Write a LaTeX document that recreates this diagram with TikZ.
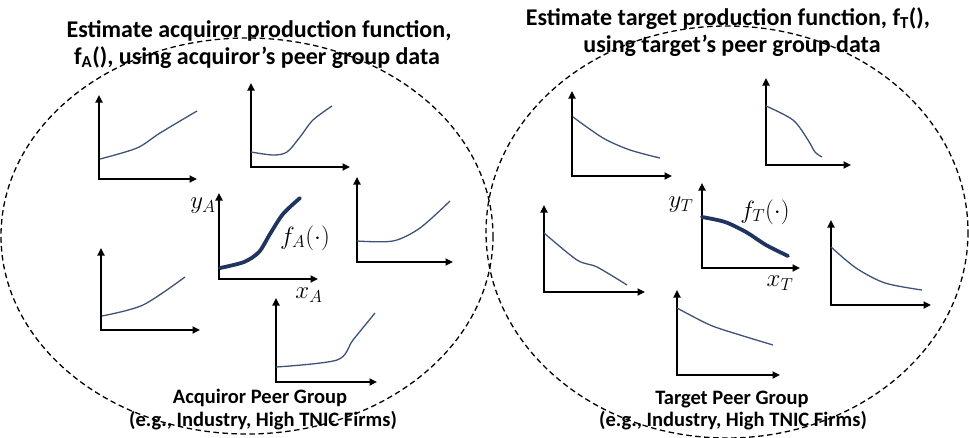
\documentclass[tikz,border=0pt]{standalone}
\usepackage{fontspec}
\setmainfont{Carlito}
\usetikzlibrary{arrows.meta}
\definecolor{thincurve}{HTML}{3F5277}
\definecolor{boldcurve}{HTML}{1F3560}
\begin{document}
\begin{tikzpicture}[x=1pt,y=-1pt,
  axes/.style={line width=1.7pt,{Triangle[length=7.5pt,width=7pt]}-{Triangle[length=7.5pt,width=7pt]}},
  curve/.style={thincurve,line width=1.3pt},
  bigcurve/.style={boldcurve,line width=3.8pt,line cap=round},
  group/.style={line width=1.3pt,dash pattern=on 5.5pt off 3.5pt},
  title/.style={font=\bfseries\fontsize{24}{28}\selectfont,anchor=base,inner sep=0pt},
  caption/.style={font=\bfseries\fontsize{20.5}{24}\selectfont,anchor=base,inner sep=0pt},
  mathlbl/.style={font=\fontsize{27}{31}\selectfont,inner sep=0pt}]
\useasboundingbox (0,0) rectangle (969,437);

% peer-group outlines
\draw[group] (247,236) ellipse [x radius=246, y radius=198];
\draw[group] (727,232) ellipse [x radius=241, y radius=206];

% titles
\node[title] (tA1) at (259,37) {Estimate acquiror production function,};
\node[title] (tA2) at (257,64) {f\textsubscript{A}(), using acquiror’s peer group data};
\node[title] (tT1) at (728,25) {Estimate target production function, f\textsubscript{T}(),};
\node[title] (tT2) at (732,52) {using target’s peer group data};

% captions
\node[caption] (cA1) at (260,403) {Acquiror Peer Group};
\node[caption] (cA2) at (263,426) {(e.g., Industry, High TNIC Firms)};
\node[caption] (cT1) at (732,404) {Target Peer Group};
\node[caption] (cT2) at (733,426) {(e.g., Industry, High TNIC Firms)};

% ---- acquiror peer firms ----
\draw[axes] (99,95) |- (197,179);
\draw[curve] plot[smooth] coordinates {(100,159) (137,148) (160,133) (197,111)};

\draw[axes] (251,83) |- (350,167);
\draw[curve] plot[smooth] coordinates {(251,152) (273,155) (287,152) (300,137) (313,120) (332,106)};

\draw[axes] (357,177) |- (453,262);
\draw[curve] plot[smooth] coordinates {(357,241) (393,241) (420,228) (450,201)};

\draw[axes] (101,248) |- (200,330);
\draw[curve] plot[smooth] coordinates {(102,316) (143,305) (185,277)};

\draw[axes] (276,298) |- (377,382);
\draw[curve] plot[smooth] coordinates {(276,367) (337,360) (353,340) (375,313)};

% acquiror production function
\draw[axes] (219,193) |- (318,279);
\draw[bigcurve] plot[smooth] coordinates {(220,268) (244,262) (259,252) (270,234) (283,214) (300,198)};
\node[mathlbl] (yA) at (203,206) {$y_A$};
\node[mathlbl] (fA) at (305,238) {$f_A(\cdot)$};
\node[mathlbl] (xA) at (309,295) {$x_A$};

% ---- target peer firms ----
\draw[axes] (572,91) |- (672,176);
\draw[curve] plot[smooth] coordinates {(573,117) (603,138) (630,150) (660,158)};

\draw[axes] (766,78) |- (851,165);
\draw[curve] plot[smooth] coordinates {(766,106) (793,120) (808,140) (815,152) (822,157)};

\draw[axes] (544,205) |- (645,292);
\draw[curve] plot[smooth] coordinates {(544,233) (577,260) (597,267) (627,285)};

\draw[axes] (831,220) |- (931,305);
\draw[curve] plot[smooth] coordinates {(831,247) (856,268) (885,283) (922,290)};

\draw[axes] (677,290) |- (780,375);
\draw[curve] plot[smooth] coordinates {(677,308) (710,325) (740,335) (773,345)};

% target production function
\draw[axes] (702,183) |- (800,268);
\draw[bigcurve] plot[smooth] coordinates {(702,217) (725,222) (746,232) (766,245) (788,256)};
\node[mathlbl] (yT) at (681,205) {$y_T$};
\node[mathlbl] (fT) at (765,212) {$f_T(\cdot)$};
\node[mathlbl] (xT) at (780,283) {$x_T$};
\end{tikzpicture}
\end{document}
